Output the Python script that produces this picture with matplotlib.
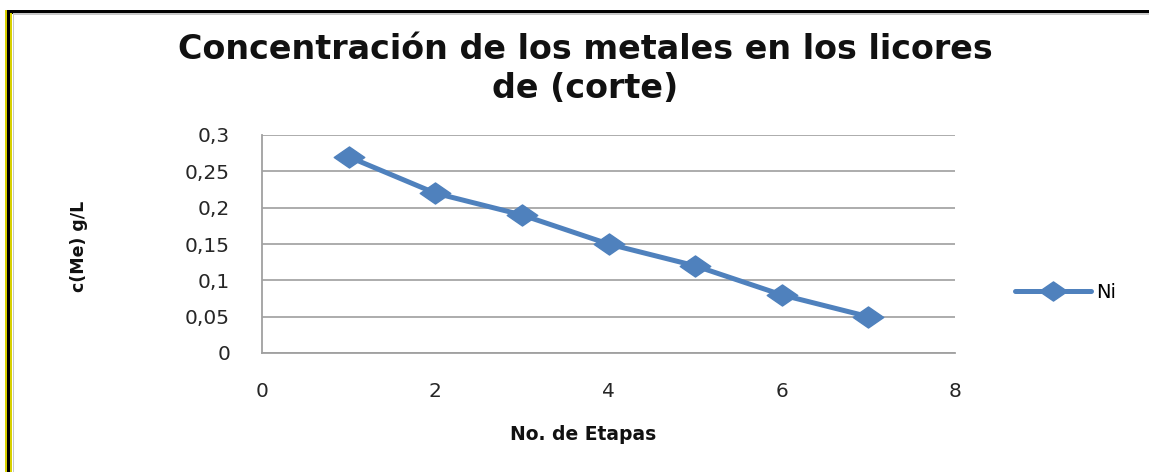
import matplotlib
matplotlib.use("Agg")
import matplotlib.pyplot as plt
from matplotlib.path import Path
from matplotlib.patches import Rectangle

etapas = [1, 2, 3, 4, 5, 6, 7]
ni = [0.27, 0.22, 0.19, 0.15, 0.12, 0.08, 0.05]
y_ticks = [0, 0.05, 0.10, 0.15, 0.20, 0.25, 0.30]
y_labels = ["0", "0,05", "0,1", "0,15", "0,2", "0,25", "0,3"]
x_ticks = [0, 2, 4, 6, 8]
x_labels = ["0", "2", "4", "6", "8"]

W, H = 1149, 472
fig = plt.figure(figsize=(W / 100, H / 100), dpi=100)
fig.patch.set_facecolor("white")

def px_rect(x0, y0, x1, y1, color):
    fig.add_artist(Rectangle((x0 / W, 1 - y1 / H), (x1 - x0) / W, (y1 - y0) / H,
                             transform=fig.transFigure, facecolor=color,
                             edgecolor="none", zorder=10))

# frame edges along the top and left
px_rect(5, 10, W, 13.5, "black")
px_rect(13, 13.5, W, 15, "#c8c8c8")
px_rect(4.5, 10, 6.5, H, "#d8d000")
px_rect(6.5, 10, 10, H, "black")
px_rect(10, 13, 11.5, H, "#d8d000")
px_rect(12.5, 15, 14, H, "#c8c8c8")

ax = fig.add_axes([262 / W, 1 - 353 / H, (955 - 262) / W, (353 - 135) / H])
ax.set_xlim(0, 8)
ax.set_ylim(0, 0.3)

diamond = Path([(-1.45, 0), (0, 1), (1.45, 0), (0, -1), (-1.45, 0)],
               [Path.MOVETO, Path.LINETO, Path.LINETO, Path.LINETO, Path.CLOSEPOLY])
blue = "#4F81BD"
ax.plot(etapas, ni, color=blue, lw=3.6, marker=diamond, markersize=22,
        markerfacecolor=blue, markeredgecolor=blue, label="Ni", zorder=3,
        solid_capstyle="round")

ax.set_yticks(y_ticks)
ax.set_yticklabels(y_labels)
ax.set_xticks(x_ticks)
ax.set_xticklabels(x_labels)
ax.tick_params(length=0, labelsize=14.5, colors="#262626")
ax.tick_params(axis="y", pad=23)
ax.tick_params(axis="x", pad=21)
for lab in ax.get_xticklabels() + ax.get_yticklabels():
    lab.set_fontfamily("DejaVu Sans")

ax.grid(axis="y", color="#a6a6a6", lw=1.3)
ax.set_axisbelow(True)
for s in ["top", "right"]:
    ax.spines[s].set_visible(False)
for s in ["left", "bottom"]:
    ax.spines[s].set_color("#a0a0a0")
    ax.spines[s].set_linewidth(1.3)

fig.text(585 / W, 1 - 69 / H, "Concentración de los metales en los licores\nde (corte)",
         ha="center", va="center", fontsize=24, fontweight="bold",
         linespacing=1.25, color="#111111")
fig.text(79 / W, 1 - 246 / H, "c(Me) g/L", rotation=90, ha="center", va="center",
         fontsize=12.5, fontweight="bold", color="#111111")
fig.text(583 / W, 1 - 435 / H, "No. de Etapas", ha="center", va="center",
         fontsize=13.5, fontweight="bold", color="#111111")

leg = fig.legend(loc="center left", bbox_to_anchor=(1015 / W, 1 - 292 / H),
                 frameon=False, fontsize=14, handlelength=3.9, handletextpad=0.25,
                 borderpad=0, borderaxespad=0)
for h in leg.legend_handles:
    h.set_markersize(20)

fig.savefig("out.png", dpi=100, facecolor="white")
